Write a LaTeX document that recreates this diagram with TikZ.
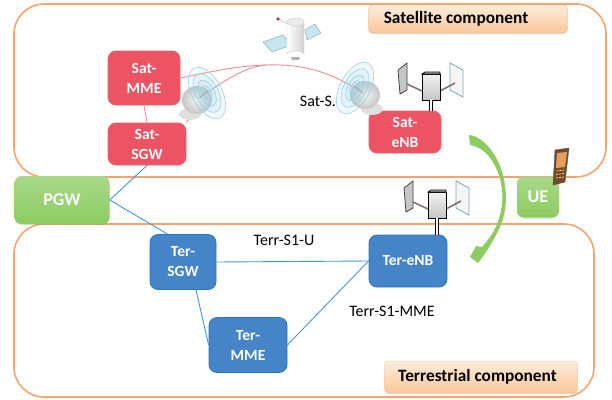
\documentclass[tikz,border=0pt]{standalone}
\usepackage{fontspec}
\setmainfont{Carlito}
\usetikzlibrary{shadows}

\definecolor{compline}{rgb}{0.97,0.64,0.42}
\definecolor{comptop}{rgb}{0.99,0.93,0.86}
\definecolor{compbot}{rgb}{0.98,0.78,0.60}
\definecolor{satred}{rgb}{0.93,0.33,0.39}
\definecolor{satredline}{rgb}{0.89,0.38,0.43}
\definecolor{satlink}{rgb}{0.95,0.55,0.58}
\definecolor{terblue}{rgb}{0.27,0.52,0.78}
\definecolor{terline}{rgb}{0.14,0.47,0.78}
\definecolor{gwgreen}{rgb}{0.55,0.80,0.38}
\definecolor{linkblue}{rgb}{0.25,0.60,0.85}
\definecolor{ringblue}{rgb}{0.60,0.82,0.90}
\definecolor{armgray}{rgb}{0.50,0.42,0.42}

\tikzset{
    nodesat/.style={rectangle, rounded corners=8pt, draw=satredline, thick, fill=satred, text=white, align=center, inner sep=0pt, font=\fontsize{15.5}{20}\selectfont\bfseries},
    nodeter/.style={rectangle, rounded corners=8pt, draw=terline, thick, fill=terblue, text=white, align=center, inner sep=0pt, font=\fontsize{15.5}{20}\selectfont\bfseries},
    nodegreen/.style={rectangle, rounded corners=7pt, top color=gwgreen!75, bottom color=gwgreen, draw=none, drop shadow={shadow xshift=0pt, shadow yshift=-1pt, opacity=0.25}, text=white, inner sep=0pt, font=\fontsize{18}{20}\selectfont\bfseries},
    nodecomp/.style={rectangle, rounded corners=4pt, top color=comptop, bottom color=compbot, draw=compline!70, drop shadow={shadow xshift=0pt, shadow yshift=-1pt, opacity=0.3}, inner sep=0pt, align=left, font=\fontsize{17.3}{20}\selectfont\bfseries},
    nodelabel/.style={inner sep=0pt, font=\fontsize{16}{18}\selectfont},
    complane/.style={draw=compline, line width=1.6pt, rounded corners=30pt},
    linkter/.style={draw=linkblue, line width=0.9pt},
    linksat/.style={draw=satlink, line width=0.9pt},
    mastline/.style={draw=black, double=white, double distance=1.6pt, line width=0.9pt},
    dish/.pic={
        \fill[gray!25] (-17,21) ellipse [x radius=11, y radius=6];
        \shade[inner color=gray!8, outer color=gray!45] (-10,7) ellipse [x radius=15, y radius=14];
        \foreach \r in {1,0.75,0.5,0.28}
            \draw[ringblue, fill=ringblue, fill opacity=0.15, line width=0.6pt] (0,0) ellipse [x radius=\r*15, y radius=\r*28, rotate=28];
        \draw[gray!70, line width=0.8pt] (-8,5) -- (1,-2);
    },
    antenna/.pic={
        \draw[draw=black!75, fill=gray!45, line width=0.8pt] (-33,-16) -- (-24,-23) -- (-24,4) -- (-31,8) -- cycle;
        \draw[draw=ringblue!80!black, fill=gray!8, line width=0.8pt] (19,-23) -- (32,-16) -- (32,11) -- (19,4) -- cycle;
        \draw[armgray, line width=1.5pt] (-24,-2) -- (-9,5);
        \draw[armgray, line width=1.5pt] (9,5) -- (24,-3);
        \shade[top color=gray!10, bottom color=gray!45, draw=black, line width=0.9pt] (-9,-12) -- (9,-12) -- (9,14) -- (-9,14) -- cycle;
        \draw[black, fill=gray!60, line width=0.7pt] (-9,-12) -- (-6,-14) -- (9,-14) -- (9,-12) -- cycle;
        \coordinate (-foot) at (0,14);
    }
}

\begin{document}
\begin{tikzpicture}[x=1pt, y=-1pt]
    \useasboundingbox (0,0) rectangle (612,399);

    % the two components
    \draw[complane] (14,4) rectangle (606,177);
    \draw[complane] (14,224) rectangle (594,397);
    \node[nodecomp, minimum width=199pt, minimum height=28pt] (satcomp) at (468,19) {Satellite component\hspace*{24pt}};
    \node[nodecomp, minimum width=193pt, minimum height=32pt] (tercomp) at (481,377) {Terrestrial component\hspace*{7pt}};

    % network elements
    \node[nodesat, minimum width=72pt, minimum height=54pt] (satmme) at (144,78) {Sat-\\MME};
    \node[nodesat, minimum width=78pt, minimum height=42pt] (satsgw) at (147,144) {Sat-\\SGW};
    \node[nodesat, minimum width=72pt, minimum height=42pt] (satenb) at (405,132) {Sat-\\eNB};
    \node[nodeter, minimum width=66pt, minimum height=55pt] (tersgw) at (183,262) {Ter-\\SGW};
    \node[nodeter, minimum width=78pt, minimum height=55pt] (termme) at (248,345) {Ter-\\MME};
    \node[nodeter, minimum width=78pt, minimum height=52pt] (terenb) at (408,261) {Ter-eNB};
    \node[nodegreen, minimum width=95pt, minimum height=48pt] (pgw) at (62,200) {PGW};
    \node[nodegreen, minimum width=42pt, minimum height=41pt] (ue) at (538,197) {UE};

    % points that the links pass through
    \coordinate (apex) at (267,65);
    \coordinate (dishsat) at (207,93);
    \coordinate (dishgnd) at (355,88);

    % links
    \draw[linkter] (pgw.east) -- (satsgw.south);
    \draw[linkter] (pgw.east) -- (tersgw.119);
    \draw[linkter] (tersgw.east) -- (terenb.west);
    \draw[linkter] (tersgw.295) -- (termme.west);
    \draw[linkter] (termme.east) -- (terenb.west);
    \draw[linksat] (satmme.south) -- (satsgw.north);
    \draw[linksat] (satmme.east) .. controls (210,72) and (235,66) .. (apex);
    \draw[linksat] (satsgw.north east) -- (dishsat) .. controls (232,75) and (250,66) .. (apex);
    \draw[linksat] (apex) .. controls (300,64) and (325,70) .. (dishgnd);

    % labels
    \node[nodelabel] (satsone) at (318,101) {Sat-S.};
    \node[nodelabel] (terrsoneu) at (284,240) {Terr-S1-U};
    \node[nodelabel] (terrsonemme) at (392,311) {Terr-S1-MME};

    % dishes
    \pic at (dishsat) {dish};
    \pic[xscale=-1] at (dishgnd) {dish};

    % masts and antennas
    \pic (satant) at (431,86) {antenna};
    \pic (terant) at (437,204) {antenna};
    \draw[mastline] (satant-foot) -- (satant-foot |- satenb.north);
    \draw[mastline] (terant-foot) -- (terant-foot |- terenb.north);

    % satellite
    \draw[ringblue!80!black, fill=ringblue!55] (263,42) -- (283,35) -- (292,45) -- (272,52) -- cycle;
    \draw[ringblue!80!black, fill=ringblue!55] (305,30) -- (315,24) -- (321,33) -- (307,40) -- cycle;
    \draw[gray!70] (278,19) -- (290,25);
    \fill[red!50!gray] (278,19) circle (1.8);
    \shade[left color=white, right color=gray!35, draw=gray!40] (287,22) -- (287,54) arc [start angle=180, end angle=360, x radius=8.5, y radius=3] -- (304,22) -- cycle;
    \draw[gray!40, fill=gray!15] (295.5,22) ellipse [x radius=8.5, y radius=4];
    \fill[gray!60] (291,57) -- (300,57) -- (299,60) -- (292,60) -- cycle;

    % phone
    \draw[black!70, fill=brown!60!black] (555,150) -- (569,148) -- (565,182) -- (553,185) -- cycle;
    \fill[orange!40!brown!75] (557,153) -- (567,152) -- (565,167) -- (556,168) -- cycle;
    \foreach \row in {0,1,2}
        \draw[orange!40!white, line width=0.8pt, dash pattern=on 2pt off 1pt] (556.5-\row*0.3,171+\row*3.5) -- (564.5-\row*0.3,170+\row*3.5);

    % handover arrow
    \fill[gwgreen] (469,135) .. controls (483,136) and (498,155) .. (503,175)
        .. controls (508,195) and (507,215) .. (497,233)
        .. controls (493,241) and (486,253) .. (478,263)
        -- (470,257) -- (476,246) -- (482,247)
        .. controls (490,238) and (497,228) .. (500,215)
        .. controls (504,200) and (503,185) .. (497,170)
        .. controls (491,156) and (482,147) .. (470,145) -- cycle;
\end{tikzpicture}
\end{document}
